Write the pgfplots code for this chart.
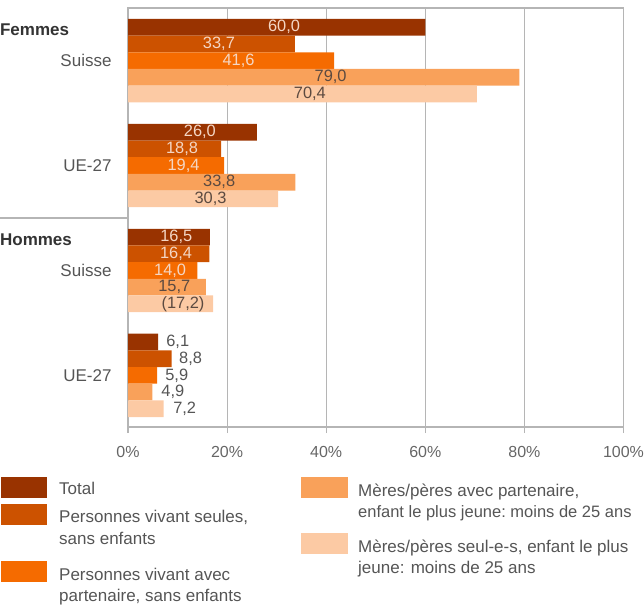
\documentclass[border=0pt]{standalone}
\usepackage{pgfplots}
\pgfplotsset{compat=1.18}
\usepackage{pgfplotstable}
\usepackage{fontspec}
\setmainfont{Liberation Sans}
\definecolor{cA}{HTML}{993300}
\definecolor{cB}{HTML}{CC5200}
\definecolor{cC}{HTML}{F56B00}
\definecolor{cD}{HTML}{F9A15A}
\definecolor{cE}{HTML}{FCCAA4}
\definecolor{txt}{HTML}{555555}
\definecolor{tick}{HTML}{666666}
\definecolor{darklab}{HTML}{5C4A40}
\definecolor{litelab}{HTML}{F4D6C4}
\definecolor{frame}{HTML}{B5B5B5}
\newcommand\fLeg{\fontsize{17pt}{21pt}\selectfont}
\newcommand\fLegS{\fontsize{16.5pt}{21pt}\selectfont}
\newcommand\fCat{\fontsize{17pt}{20pt}\selectfont}
\newcommand\fLab{\fontsize{16.4pt}{19pt}\selectfont}
\newcommand\fTick{\fontsize{16pt}{19pt}\selectfont}

% y positions: group g, bar i -> g*6.3 + i
\pgfplotstableread{
y x
0 60.0
6.3 26.0
12.6 16.5
18.9 6.1
}\tA
\pgfplotstableread{
y x
1 33.7
7.3 18.8
13.6 16.4
19.9 8.8
}\tB
\pgfplotstableread{
y x
2 41.6
8.3 19.4
14.6 14.0
20.9 5.9
}\tC
\pgfplotstableread{
y x
3 79.0
9.3 33.8
15.6 15.7
21.9 4.9
}\tD
\pgfplotstableread{
y x
4 70.4
10.3 30.3
16.6 17.2
22.9 7.2
}\tE
% label positions (x in %)
\pgfplotstableread{
x y lab
31.5 0 60,0
18.35 1 33,7
22.3 2 41,6
14.5 6.3 26,0
10.9 7.3 18,8
11.2 8.3 19,4
9.75 12.6 16,5
9.7 13.6 16,4
8.5 14.6 14,0
}\tLite
\pgfplotstableread{
x y lab
40.9 3 79,0
36.7 4 70,4
18.4 9.3 33,8
16.65 10.3 30,3
9.35 15.6 15,7
11.1 16.6 (17,2)
}\tDark
\pgfplotstableread{
x y lab
7.7 18.9 6,1
10.3 19.9 8,8
7.5 20.9 5,9
6.7 21.9 4,9
9.1 22.9 7,2
}\tOut

\begin{document}
\begin{tikzpicture}[x=1pt,y=1pt]
\useasboundingbox (0,0) rectangle (644,-604);
\begin{axis}[
  at={(375.75pt,-217.5pt)}, anchor=center,
  scale only axis, width=495.5pt, height=419pt,
  xmin=0, xmax=100, ymin=-1.16, ymax=24.0, y dir=reverse,
  clip=false,
  axis line style={frame, line width=1.3pt},
  xtick={0,20,40,60,80,100},
  xticklabel={\pgfmathprintnumber{\tick}\%},
  xtick pos=bottom, tick align=outside,
  major tick length=6pt,
  tick style={frame, line width=1.2pt},
  xticklabel style={font=\fTick, text=tick, yshift=-10pt},
  /pgf/number format/assume math mode=true,
  ytick=\empty,
  xmajorgrids, grid style={frame, line width=1.2pt},
  xbar, bar width=1, bar shift=0pt,
]
\addplot[draw=none, fill=cA] table[x=x,y=y] {\tA};
\addplot[draw=none, fill=cB] table[x=x,y=y] {\tB};
\addplot[draw=none, fill=cC] table[x=x,y=y] {\tC};
\addplot[draw=none, fill=cD] table[x=x,y=y] {\tD};
\addplot[draw=none, fill=cE] table[x=x,y=y] {\tE};

\addplot[xbar=false, draw=none, mark=none, point meta=explicit symbolic,
  nodes near coords={\pgfplotspointmeta},
  nodes near coords style={anchor=center, inner sep=0pt, font=\fLab, text=litelab}]
  table[x=x,y=y,meta=lab] {\tLite};
\addplot[xbar=false, draw=none, mark=none, point meta=explicit symbolic,
  nodes near coords={\pgfplotspointmeta},
  nodes near coords style={anchor=center, inner sep=0pt, font=\fLab, text=darklab}]
  table[x=x,y=y,meta=lab] {\tDark};
\addplot[xbar=false, draw=none, mark=none, point meta=explicit symbolic,
  nodes near coords={\pgfplotspointmeta},
  nodes near coords style={anchor=west, inner sep=0pt, font=\fLab, text=txt}]
  table[x=x,y=y,meta=lab] {\tOut};

% category labels
\node[anchor=east, inner sep=0pt, font=\fCat, text=txt, xshift=-16.3pt] at (axis cs:0,2) {Suisse};
\node[anchor=east, inner sep=0pt, font=\fCat, text=txt, xshift=-16.3pt] at (axis cs:0,8.3) {UE-27};
\node[anchor=east, inner sep=0pt, font=\fCat, text=txt, xshift=-16.3pt] at (axis cs:0,14.6) {Suisse};
\node[anchor=east, inner sep=0pt, font=\fCat, text=txt, xshift=-16.3pt] at (axis cs:0,20.9) {UE-27};
\node[anchor=west, inner sep=0pt, font=\fCat\bfseries, text=black!80] at (axis cs:-25.85,0.16) {Femmes};
\node[anchor=west, inner sep=0pt, font=\fCat\bfseries, text=black!80] at (axis cs:-25.85,12.77) {Hommes};
\draw[frame, line width=1.3pt] (axis cs:-25.85,11.45) -- (axis cs:0,11.45);
\end{axis}

% legend
\fill[cA] (1,-476.5) rectangle (47,-497.5);
\fill[cB] (1,-504) rectangle (47,-524.5);
\fill[cC] (1,-561) rectangle (47,-581.5);
\fill[cD] (301,-477) rectangle (348,-497.5);
\fill[cE] (301,-533) rectangle (348,-553.5);
\begin{scope}[every node/.style={anchor=base west, inner sep=0pt, font=\fLeg, text=txt}]
\node at (59,-494) {Total};
\node at (59,-522) {Personnes vivant seules,};
\node at (59,-544) {sans enfants};
\node at (59,-580) {Personnes vivant avec};
\node at (59,-601) {partenaire, sans enfants};
\node at (358,-496) {Mères/pères avec partenaire,};
\node[font=\fLegS] at (358,-517) {enfant le plus jeune:\hspace{-1.5pt} moins de 25 ans};
\node at (358,-552) {Mères/pères seul-e-s, enfant le plus};
\node at (358,-573) {jeune: moins de 25 ans};
\end{scope}
\end{tikzpicture}
\end{document}
